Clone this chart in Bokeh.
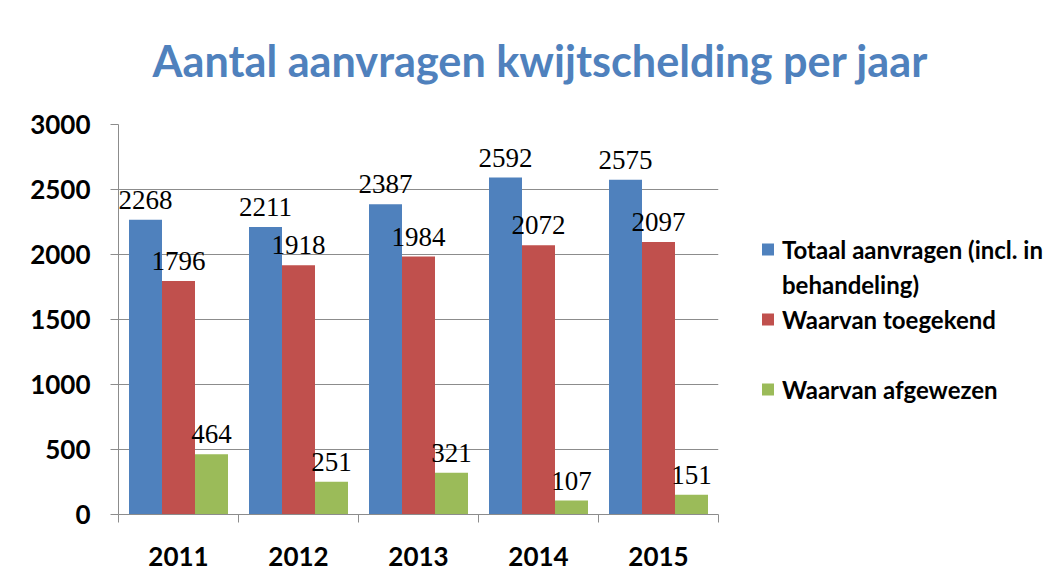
from bokeh.plotting import figure
from bokeh.models import Range1d, FixedTicker, Legend, LegendItem, Title
from bokeh.core.properties import value
from bokeh.embed import file_html
from bokeh.resources import INLINE

# ---- data ----
years = ["2011", "2012", "2013", "2014", "2015"]
totaal = [2268, 2211, 2387, 2592, 2575]
toegekend = [1796, 1918, 1984, 2072, 2097]
afgewezen = [464, 251, 321, 107, 151]
legend_lines = ["Totaal aanvragen (incl. in", "behandeling)", "Waarvan toegekend", "Waarvan afgewezen"]
y_ticks = [0, 500, 1000, 1500, 2000, 2500, 3000]
title_text = "Aantal aanvragen kwijtschelding per jaar"

colors = ["#4F81BD", "#C0504D", "#9BBB59"]
series = [totaal, toegekend, afgewezen]
bar_w = 0.275
offsets = [-bar_w, 0.0, bar_w]

n = len(years)
centers = [i + 0.5 for i in range(n)]
bounds = [float(i) for i in range(n + 1)]

p = figure(frame_width=600, frame_height=390,
           x_range=Range1d(0, n), y_range=Range1d(y_ticks[0], y_ticks[-1]),
           output_backend="svg", toolbar_location=None,
           min_border_left=118, min_border_top=124, min_border_bottom=66, min_border_right=10)
p.outline_line_color = None
p.background_fill_color = "white"

# axes
grey = "#8c8c8c"
xa = p.xaxis[0]
xa.ticker = FixedTicker(ticks=centers, minor_ticks=bounds)
xa.major_label_overrides = {c: y for c, y in zip(centers, years)}
xa.major_tick_out = 0
xa.major_tick_in = 0
xa.minor_tick_out = 8
xa.minor_tick_in = 0
xa.minor_tick_line_color = grey
xa.axis_line_color = grey
xa.major_label_text_font = "Lato"
xa.major_label_text_font_style = "bold"
xa.major_label_text_font_size = "26px"
xa.major_label_text_color = "black"
xa.major_label_standoff = 24

ya = p.yaxis[0]
ya.ticker = FixedTicker(ticks=y_ticks)
ya.major_tick_out = 8
ya.major_tick_in = 0
ya.minor_tick_out = 0
ya.minor_tick_in = 0
ya.major_tick_line_color = grey
ya.axis_line_color = grey
ya.major_label_text_font = "Lato"
ya.major_label_text_font_style = "bold"
ya.major_label_text_font_size = "26px"
ya.major_label_text_color = "black"
ya.major_label_standoff = 20

p.xgrid.visible = False
p.ygrid.ticker = FixedTicker(ticks=y_ticks)
p.ygrid.grid_line_color = grey
p.ygrid.grid_line_width = 1

# bars and labels
renderers = []
for vals, col, off in zip(series, colors, offsets):
    xs = [c + off for c in centers]
    r = p.vbar(x=xs, top=vals, width=bar_w, fill_color=col, line_color=None)
    renderers.append(r)
    p.text(x=xs, y=vals, text=[str(v) for v in vals],
           text_font=value("Liberation Serif"), text_font_size="27px",
           text_align="center", text_baseline="bottom", y_offset=-11,
           text_color="black")

blank = p.vbar(x=[], top=[], width=0.1, fill_alpha=0, line_alpha=0)

legend = Legend(items=[
    LegendItem(label=legend_lines[0], renderers=[renderers[0]]),
    LegendItem(label=legend_lines[1], renderers=[blank]),
    LegendItem(label=legend_lines[2], renderers=[renderers[1]]),
    LegendItem(label=" ", renderers=[blank]),
    LegendItem(label=legend_lines[3], renderers=[renderers[2]]),
])
legend.location = "left"
legend.margin = 42
legend.padding = 5
legend.spacing = 0
legend.label_height = 35
legend.glyph_height = 15
legend.glyph_width = 15
legend.label_standoff = 7
legend.label_text_font = "Lato"
legend.label_text_font_style = "bold"
legend.label_text_font_size = "24px"
legend.label_text_color = "black"
legend.border_line_color = None
legend.background_fill_alpha = 0
p.add_layout(legend, "right")

# spacer between frame and title (closest to the frame), then the title
spacer = Title(text=" ", text_font_size="10px", standoff=26)
p.add_layout(spacer, "above")
title = Title(text=title_text, align="left", offset=34, standoff=0,
              text_font="Lato", text_font_size="43.2px", text_font_style="bold",
              text_color="#4F81BD")
p.add_layout(title, "above")

open("out.html", "w").write(file_html(p, INLINE))
